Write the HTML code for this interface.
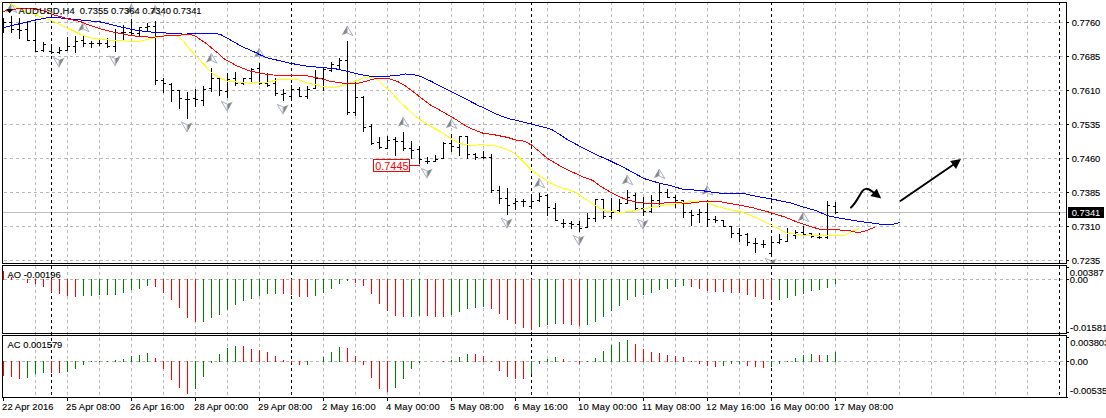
<!DOCTYPE html><html><head><meta charset="utf-8"><title>AUDUSD H4</title>
<style>html,body{margin:0;padding:0;background:#fff}body{width:1106px;height:418px;overflow:hidden}svg{display:block}text{font-family:"Liberation Sans",sans-serif;font-size:9.4px;fill:#000;stroke:#000;stroke-width:0.12px}</style></head><body>
<svg width="1106" height="418" viewBox="0 0 1106 418">
<rect width="1106" height="418" fill="#fff"/>
<defs><clipPath id="cm"><rect x="3" y="3" width="1063" height="260"/></clipPath>
<linearGradient id="gl" x1="1" y1="0" x2="0" y2="0"><stop offset="0" stop-color="#7e7e7e"/><stop offset="0.55" stop-color="#8e8e8e"/><stop offset="1" stop-color="#d8d4d0"/></linearGradient>
<linearGradient id="gr" x1="0" y1="0" x2="1" y2="0"><stop offset="0" stop-color="#7e7e7e"/><stop offset="0.55" stop-color="#8e8e8e"/><stop offset="1" stop-color="#d8d4d0"/></linearGradient>
<g id="fu"><polygon points="0,0 -5.8,9.6 0,7" fill="url(#gl)"/><polygon points="0,0 0,7 5.8,9.6" fill="#fbfcfe" stroke="#a3adbd" stroke-width="0.95"/></g>
<g id="fd"><polygon points="0,10.2 5.8,0.4 0,2.9" fill="url(#gr)"/><polygon points="0,10.2 0,2.9 -5.8,0.4" fill="#fbfcfe" stroke="#a3adbd" stroke-width="0.95"/></g>
</defs>
<g shape-rendering="crispEdges" fill="none" stroke-width="1">
<g stroke="#b8b8b8" stroke-dasharray="3 3">
<line x1="35.5" y1="2" x2="35.5" y2="398"/>
<line x1="67.5" y1="2" x2="67.5" y2="398"/>
<line x1="99.5" y1="2" x2="99.5" y2="398"/>
<line x1="131.5" y1="2" x2="131.5" y2="398"/>
<line x1="163.5" y1="2" x2="163.5" y2="398"/>
<line x1="195.5" y1="2" x2="195.5" y2="398"/>
<line x1="227.5" y1="2" x2="227.5" y2="398"/>
<line x1="259.5" y1="2" x2="259.5" y2="398"/>
<line x1="291.5" y1="2" x2="291.5" y2="398"/>
<line x1="323.5" y1="2" x2="323.5" y2="398"/>
<line x1="355.5" y1="2" x2="355.5" y2="398"/>
<line x1="387.5" y1="2" x2="387.5" y2="398"/>
<line x1="419.5" y1="2" x2="419.5" y2="398"/>
<line x1="451.5" y1="2" x2="451.5" y2="398"/>
<line x1="483.5" y1="2" x2="483.5" y2="398"/>
<line x1="515.5" y1="2" x2="515.5" y2="398"/>
<line x1="547.5" y1="2" x2="547.5" y2="398"/>
<line x1="579.5" y1="2" x2="579.5" y2="398"/>
<line x1="611.5" y1="2" x2="611.5" y2="398"/>
<line x1="643.5" y1="2" x2="643.5" y2="398"/>
<line x1="675.5" y1="2" x2="675.5" y2="398"/>
<line x1="707.5" y1="2" x2="707.5" y2="398"/>
<line x1="739.5" y1="2" x2="739.5" y2="398"/>
<line x1="771.5" y1="2" x2="771.5" y2="398"/>
<line x1="803.5" y1="2" x2="803.5" y2="398"/>
<line x1="835.5" y1="2" x2="835.5" y2="398"/>
<line x1="867.5" y1="2" x2="867.5" y2="398"/>
<line x1="899.5" y1="2" x2="899.5" y2="398"/>
<line x1="931.5" y1="2" x2="931.5" y2="398"/>
<line x1="963.5" y1="2" x2="963.5" y2="398"/>
<line x1="995.5" y1="2" x2="995.5" y2="398"/>
<line x1="1027.5" y1="2" x2="1027.5" y2="398"/>
<line x1="3" y1="22.5" x2="1066" y2="22.5" stroke-dashoffset="5"/>
<line x1="3" y1="56.5" x2="1066" y2="56.5" stroke-dashoffset="5"/>
<line x1="3" y1="90.5" x2="1066" y2="90.5" stroke-dashoffset="5"/>
<line x1="3" y1="124.5" x2="1066" y2="124.5" stroke-dashoffset="5"/>
<line x1="3" y1="158.5" x2="1066" y2="158.5" stroke-dashoffset="5"/>
<line x1="3" y1="192.5" x2="1066" y2="192.5" stroke-dashoffset="5"/>
<line x1="3" y1="226.5" x2="1066" y2="226.5" stroke-dashoffset="5"/>
<line x1="3" y1="260.5" x2="1066" y2="260.5" stroke-dashoffset="5"/>
<line x1="3" y1="279.5" x2="1066" y2="279.5" stroke-dashoffset="5"/>
<line x1="3" y1="361.5" x2="1066" y2="361.5" stroke-dashoffset="5"/>
</g>
<line x1="3" y1="212.5" x2="1066" y2="212.5" stroke="#c0c0c0"/>
<g stroke="#000" stroke-dasharray="3 3">
<line x1="51.5" y1="2" x2="51.5" y2="398"/>
<line x1="291.5" y1="2" x2="291.5" y2="398"/>
<line x1="531.5" y1="2" x2="531.5" y2="398"/>
<line x1="771.5" y1="2" x2="771.5" y2="398"/>
<line x1="1059.5" y1="2" x2="1059.5" y2="398"/>
</g>
</g>
<g shape-rendering="crispEdges">
<rect x="3" y="271" width="1" height="9" fill="#ff0000"/>
<rect x="11" y="277" width="1" height="3" fill="#ff0000"/>
<rect x="27" y="279" width="1" height="4" fill="#ff0000"/>
<rect x="35" y="279" width="1" height="5" fill="#ff0000"/>
<rect x="43" y="279" width="1" height="8" fill="#ff0000"/>
<rect x="51" y="279" width="1" height="13" fill="#ff0000"/>
<rect x="59" y="279" width="1" height="15" fill="#ff0000"/>
<rect x="67" y="279" width="1" height="17" fill="#ff0000"/>
<rect x="75" y="279" width="1" height="18" fill="#ff0000"/>
<rect x="83" y="279" width="1" height="17" fill="#008000"/>
<rect x="91" y="279" width="1" height="17" fill="#008000"/>
<rect x="99" y="279" width="1" height="16" fill="#008000"/>
<rect x="107" y="279" width="1" height="16" fill="#008000"/>
<rect x="115" y="279" width="1" height="16" fill="#008000"/>
<rect x="123" y="279" width="1" height="14" fill="#008000"/>
<rect x="131" y="279" width="1" height="11" fill="#008000"/>
<rect x="139" y="279" width="1" height="10" fill="#008000"/>
<rect x="147" y="279" width="1" height="7" fill="#008000"/>
<rect x="155" y="279" width="1" height="8" fill="#ff0000"/>
<rect x="163" y="279" width="1" height="14" fill="#ff0000"/>
<rect x="171" y="279" width="1" height="21" fill="#ff0000"/>
<rect x="179" y="279" width="1" height="29" fill="#ff0000"/>
<rect x="187" y="279" width="1" height="39" fill="#ff0000"/>
<rect x="195" y="279" width="1" height="43" fill="#ff0000"/>
<rect x="203" y="279" width="1" height="43" fill="#008000"/>
<rect x="211" y="279" width="1" height="39" fill="#008000"/>
<rect x="219" y="279" width="1" height="36" fill="#008000"/>
<rect x="227" y="279" width="1" height="31" fill="#008000"/>
<rect x="235" y="279" width="1" height="26" fill="#008000"/>
<rect x="243" y="279" width="1" height="22" fill="#008000"/>
<rect x="251" y="279" width="1" height="20" fill="#008000"/>
<rect x="259" y="279" width="1" height="17" fill="#008000"/>
<rect x="267" y="279" width="1" height="15" fill="#008000"/>
<rect x="275" y="279" width="1" height="15" fill="#008000"/>
<rect x="283" y="279" width="1" height="15" fill="#ff0000"/>
<rect x="291" y="279" width="1" height="16" fill="#ff0000"/>
<rect x="299" y="279" width="1" height="18" fill="#ff0000"/>
<rect x="307" y="279" width="1" height="18" fill="#ff0000"/>
<rect x="315" y="279" width="1" height="17" fill="#008000"/>
<rect x="323" y="279" width="1" height="14" fill="#008000"/>
<rect x="331" y="279" width="1" height="10" fill="#008000"/>
<rect x="339" y="279" width="1" height="5" fill="#008000"/>
<rect x="347" y="279" width="1" height="2" fill="#008000"/>
<rect x="355" y="279" width="1" height="4" fill="#ff0000"/>
<rect x="363" y="279" width="1" height="7" fill="#ff0000"/>
<rect x="371" y="279" width="1" height="15" fill="#ff0000"/>
<rect x="379" y="279" width="1" height="25" fill="#ff0000"/>
<rect x="387" y="279" width="1" height="32" fill="#ff0000"/>
<rect x="395" y="279" width="1" height="37" fill="#ff0000"/>
<rect x="403" y="279" width="1" height="38" fill="#ff0000"/>
<rect x="411" y="279" width="1" height="38" fill="#008000"/>
<rect x="419" y="279" width="1" height="37" fill="#008000"/>
<rect x="427" y="279" width="1" height="37" fill="#ff0000"/>
<rect x="435" y="279" width="1" height="38" fill="#ff0000"/>
<rect x="443" y="279" width="1" height="38" fill="#ff0000"/>
<rect x="451" y="279" width="1" height="36" fill="#008000"/>
<rect x="459" y="279" width="1" height="33" fill="#008000"/>
<rect x="467" y="279" width="1" height="30" fill="#008000"/>
<rect x="475" y="279" width="1" height="29" fill="#008000"/>
<rect x="483" y="279" width="1" height="28" fill="#008000"/>
<rect x="491" y="279" width="1" height="30" fill="#ff0000"/>
<rect x="499" y="279" width="1" height="35" fill="#ff0000"/>
<rect x="507" y="279" width="1" height="41" fill="#ff0000"/>
<rect x="515" y="279" width="1" height="45" fill="#ff0000"/>
<rect x="523" y="279" width="1" height="49" fill="#ff0000"/>
<rect x="531" y="279" width="1" height="51" fill="#ff0000"/>
<rect x="539" y="279" width="1" height="48" fill="#008000"/>
<rect x="547" y="279" width="1" height="46" fill="#008000"/>
<rect x="555" y="279" width="1" height="45" fill="#008000"/>
<rect x="563" y="279" width="1" height="45" fill="#ff0000"/>
<rect x="571" y="279" width="1" height="46" fill="#ff0000"/>
<rect x="579" y="279" width="1" height="47" fill="#ff0000"/>
<rect x="587" y="279" width="1" height="46" fill="#008000"/>
<rect x="595" y="279" width="1" height="43" fill="#008000"/>
<rect x="603" y="279" width="1" height="38" fill="#008000"/>
<rect x="611" y="279" width="1" height="32" fill="#008000"/>
<rect x="619" y="279" width="1" height="27" fill="#008000"/>
<rect x="627" y="279" width="1" height="21" fill="#008000"/>
<rect x="635" y="279" width="1" height="18" fill="#008000"/>
<rect x="643" y="279" width="1" height="16" fill="#008000"/>
<rect x="651" y="279" width="1" height="14" fill="#008000"/>
<rect x="659" y="279" width="1" height="11" fill="#008000"/>
<rect x="667" y="279" width="1" height="10" fill="#008000"/>
<rect x="675" y="279" width="1" height="8" fill="#008000"/>
<rect x="683" y="279" width="1" height="7" fill="#008000"/>
<rect x="691" y="279" width="1" height="8" fill="#ff0000"/>
<rect x="699" y="279" width="1" height="10" fill="#ff0000"/>
<rect x="707" y="279" width="1" height="12" fill="#ff0000"/>
<rect x="715" y="279" width="1" height="13" fill="#ff0000"/>
<rect x="723" y="279" width="1" height="13" fill="#ff0000"/>
<rect x="731" y="279" width="1" height="14" fill="#ff0000"/>
<rect x="739" y="279" width="1" height="14" fill="#ff0000"/>
<rect x="747" y="279" width="1" height="16" fill="#ff0000"/>
<rect x="755" y="279" width="1" height="18" fill="#ff0000"/>
<rect x="763" y="279" width="1" height="20" fill="#ff0000"/>
<rect x="771" y="279" width="1" height="21" fill="#ff0000"/>
<rect x="779" y="279" width="1" height="21" fill="#008000"/>
<rect x="787" y="279" width="1" height="19" fill="#008000"/>
<rect x="795" y="279" width="1" height="17" fill="#008000"/>
<rect x="803" y="279" width="1" height="15" fill="#008000"/>
<rect x="811" y="279" width="1" height="12" fill="#008000"/>
<rect x="819" y="279" width="1" height="11" fill="#008000"/>
<rect x="827" y="279" width="1" height="9" fill="#008000"/>
<rect x="835" y="279" width="1" height="5" fill="#008000"/>
<rect x="3" y="361" width="1" height="15" fill="#ff0000"/>
<rect x="11" y="361" width="1" height="16" fill="#ff0000"/>
<rect x="19" y="361" width="1" height="18" fill="#ff0000"/>
<rect x="27" y="361" width="1" height="17" fill="#008000"/>
<rect x="35" y="361" width="1" height="13" fill="#008000"/>
<rect x="43" y="361" width="1" height="12" fill="#008000"/>
<rect x="51" y="361" width="1" height="12" fill="#ff0000"/>
<rect x="59" y="361" width="1" height="12" fill="#ff0000"/>
<rect x="67" y="361" width="1" height="11" fill="#008000"/>
<rect x="75" y="361" width="1" height="8" fill="#008000"/>
<rect x="83" y="361" width="1" height="4" fill="#008000"/>
<rect x="91" y="361" width="1" height="1" fill="#008000"/>
<rect x="99" y="361" width="1" height="1" fill="#008000"/>
<rect x="107" y="361" width="1" height="1" fill="#008000"/>
<rect x="115" y="360" width="1" height="2" fill="#008000"/>
<rect x="123" y="359" width="1" height="3" fill="#008000"/>
<rect x="131" y="356" width="1" height="6" fill="#008000"/>
<rect x="139" y="355" width="1" height="7" fill="#008000"/>
<rect x="147" y="353" width="1" height="9" fill="#008000"/>
<rect x="155" y="358" width="1" height="4" fill="#ff0000"/>
<rect x="163" y="361" width="1" height="8" fill="#ff0000"/>
<rect x="171" y="361" width="1" height="19" fill="#ff0000"/>
<rect x="179" y="361" width="1" height="27" fill="#ff0000"/>
<rect x="187" y="361" width="1" height="33" fill="#ff0000"/>
<rect x="195" y="361" width="1" height="28" fill="#008000"/>
<rect x="203" y="361" width="1" height="16" fill="#008000"/>
<rect x="211" y="361" width="1" height="2" fill="#008000"/>
<rect x="219" y="354" width="1" height="8" fill="#008000"/>
<rect x="227" y="348" width="1" height="14" fill="#008000"/>
<rect x="235" y="346" width="1" height="16" fill="#008000"/>
<rect x="243" y="346" width="1" height="16" fill="#ff0000"/>
<rect x="251" y="349" width="1" height="13" fill="#ff0000"/>
<rect x="259" y="350" width="1" height="12" fill="#ff0000"/>
<rect x="267" y="352" width="1" height="10" fill="#ff0000"/>
<rect x="275" y="356" width="1" height="6" fill="#ff0000"/>
<rect x="283" y="360" width="1" height="2" fill="#ff0000"/>
<rect x="291" y="361" width="1" height="2" fill="#ff0000"/>
<rect x="299" y="361" width="1" height="4" fill="#ff0000"/>
<rect x="307" y="361" width="1" height="4" fill="#008000"/>
<rect x="323" y="357" width="1" height="5" fill="#008000"/>
<rect x="331" y="352" width="1" height="10" fill="#008000"/>
<rect x="339" y="347" width="1" height="15" fill="#008000"/>
<rect x="347" y="348" width="1" height="14" fill="#ff0000"/>
<rect x="355" y="356" width="1" height="6" fill="#ff0000"/>
<rect x="363" y="361" width="1" height="4" fill="#ff0000"/>
<rect x="371" y="361" width="1" height="17" fill="#ff0000"/>
<rect x="379" y="361" width="1" height="28" fill="#ff0000"/>
<rect x="387" y="361" width="1" height="31" fill="#ff0000"/>
<rect x="395" y="361" width="1" height="27" fill="#008000"/>
<rect x="403" y="361" width="1" height="18" fill="#008000"/>
<rect x="411" y="361" width="1" height="8" fill="#008000"/>
<rect x="419" y="361" width="1" height="2" fill="#008000"/>
<rect x="443" y="361" width="1" height="1" fill="#ff0000"/>
<rect x="451" y="360" width="1" height="2" fill="#008000"/>
<rect x="459" y="357" width="1" height="5" fill="#008000"/>
<rect x="467" y="354" width="1" height="8" fill="#008000"/>
<rect x="475" y="354" width="1" height="8" fill="#ff0000"/>
<rect x="483" y="356" width="1" height="6" fill="#ff0000"/>
<rect x="491" y="361" width="1" height="1" fill="#ff0000"/>
<rect x="499" y="361" width="1" height="10" fill="#ff0000"/>
<rect x="507" y="361" width="1" height="16" fill="#ff0000"/>
<rect x="515" y="361" width="1" height="18" fill="#ff0000"/>
<rect x="523" y="361" width="1" height="18" fill="#ff0000"/>
<rect x="531" y="361" width="1" height="13" fill="#008000"/>
<rect x="539" y="361" width="1" height="3" fill="#008000"/>
<rect x="547" y="359" width="1" height="3" fill="#008000"/>
<rect x="555" y="357" width="1" height="5" fill="#008000"/>
<rect x="563" y="359" width="1" height="3" fill="#ff0000"/>
<rect x="579" y="361" width="1" height="3" fill="#ff0000"/>
<rect x="587" y="361" width="1" height="1" fill="#008000"/>
<rect x="595" y="358" width="1" height="4" fill="#008000"/>
<rect x="603" y="351" width="1" height="11" fill="#008000"/>
<rect x="611" y="345" width="1" height="17" fill="#008000"/>
<rect x="619" y="342" width="1" height="20" fill="#008000"/>
<rect x="627" y="340" width="1" height="22" fill="#008000"/>
<rect x="635" y="344" width="1" height="18" fill="#ff0000"/>
<rect x="643" y="349" width="1" height="13" fill="#ff0000"/>
<rect x="651" y="352" width="1" height="10" fill="#ff0000"/>
<rect x="659" y="353" width="1" height="9" fill="#ff0000"/>
<rect x="667" y="355" width="1" height="7" fill="#ff0000"/>
<rect x="675" y="356" width="1" height="6" fill="#ff0000"/>
<rect x="683" y="357" width="1" height="5" fill="#ff0000"/>
<rect x="691" y="361" width="1" height="1" fill="#ff0000"/>
<rect x="699" y="361" width="1" height="3" fill="#ff0000"/>
<rect x="707" y="361" width="1" height="5" fill="#ff0000"/>
<rect x="715" y="361" width="1" height="6" fill="#ff0000"/>
<rect x="723" y="361" width="1" height="5" fill="#008000"/>
<rect x="731" y="361" width="1" height="3" fill="#008000"/>
<rect x="739" y="361" width="1" height="3" fill="#008000"/>
<rect x="747" y="361" width="1" height="5" fill="#ff0000"/>
<rect x="755" y="361" width="1" height="6" fill="#ff0000"/>
<rect x="763" y="361" width="1" height="7" fill="#ff0000"/>
<rect x="771" y="361" width="1" height="6" fill="#008000"/>
<rect x="779" y="361" width="1" height="3" fill="#008000"/>
<rect x="787" y="361" width="1" height="1" fill="#008000"/>
<rect x="795" y="358" width="1" height="4" fill="#008000"/>
<rect x="803" y="355" width="1" height="7" fill="#008000"/>
<rect x="811" y="354" width="1" height="8" fill="#008000"/>
<rect x="819" y="355" width="1" height="7" fill="#ff0000"/>
<rect x="827" y="355" width="1" height="7" fill="#008000"/>
<rect x="835" y="352" width="1" height="10" fill="#008000"/>
</g>
<g clip-path="url(#cm)">
<use href="#fu" x="11.2" y="3.0"/>
<use href="#fu" x="83.2" y="22.1"/>
<use href="#fu" x="131.2" y="4.3"/>
<use href="#fu" x="155.2" y="5.5"/>
<use href="#fu" x="211.2" y="53.5"/>
<use href="#fu" x="259.1" y="48.3"/>
<use href="#fu" x="347.1" y="26.0"/>
<use href="#fu" x="403.1" y="117.3"/>
<use href="#fu" x="451.1" y="118.9"/>
<use href="#fu" x="539.1" y="178.3"/>
<use href="#fu" x="627.1" y="175.2"/>
<use href="#fu" x="659.1" y="169.0"/>
<use href="#fu" x="707.1" y="185.6"/>
<use href="#fu" x="803.1" y="212.0"/>
<use href="#fd" x="59.1" y="57.0"/>
<use href="#fd" x="115.2" y="55.6"/>
<use href="#fd" x="187.2" y="121.8"/>
<use href="#fd" x="227.2" y="101.0"/>
<use href="#fd" x="283.1" y="104.0"/>
<use href="#fd" x="427.1" y="168.0"/>
<use href="#fd" x="507.1" y="218.0"/>
<use href="#fd" x="579.1" y="235.2"/>
<use href="#fd" x="643.1" y="219.0"/>
<use href="#fd" x="771.1" y="258.0"/>
<g shape-rendering="crispEdges" fill="#000">
<rect x="3" y="18" width="1" height="15"/>
<rect x="4" y="22" width="2" height="1"/>
<rect x="11" y="16" width="1" height="17"/>
<rect x="9" y="22" width="2" height="1"/>
<rect x="12" y="29" width="2" height="1"/>
<rect x="19" y="18" width="1" height="21"/>
<rect x="17" y="29" width="2" height="1"/>
<rect x="20" y="30" width="2" height="1"/>
<rect x="27" y="22" width="1" height="19"/>
<rect x="25" y="29" width="2" height="1"/>
<rect x="28" y="40" width="2" height="1"/>
<rect x="35" y="22" width="1" height="30"/>
<rect x="33" y="40" width="2" height="1"/>
<rect x="36" y="51" width="2" height="1"/>
<rect x="43" y="42" width="1" height="10"/>
<rect x="41" y="50" width="2" height="1"/>
<rect x="44" y="44" width="2" height="1"/>
<rect x="51" y="44" width="1" height="10"/>
<rect x="49" y="51" width="2" height="1"/>
<rect x="52" y="52" width="2" height="1"/>
<rect x="59" y="47" width="1" height="7"/>
<rect x="57" y="52" width="2" height="1"/>
<rect x="60" y="50" width="2" height="1"/>
<rect x="67" y="37" width="1" height="14"/>
<rect x="65" y="50" width="2" height="1"/>
<rect x="68" y="46" width="2" height="1"/>
<rect x="75" y="36" width="1" height="17"/>
<rect x="73" y="46" width="2" height="1"/>
<rect x="76" y="41" width="2" height="1"/>
<rect x="83" y="36" width="1" height="11"/>
<rect x="81" y="40" width="2" height="1"/>
<rect x="84" y="43" width="2" height="1"/>
<rect x="91" y="41" width="1" height="7"/>
<rect x="89" y="43" width="2" height="1"/>
<rect x="92" y="43" width="2" height="1"/>
<rect x="99" y="39" width="1" height="7"/>
<rect x="97" y="43" width="2" height="1"/>
<rect x="100" y="43" width="2" height="1"/>
<rect x="107" y="38" width="1" height="10"/>
<rect x="105" y="43" width="2" height="1"/>
<rect x="108" y="46" width="2" height="1"/>
<rect x="115" y="29" width="1" height="23"/>
<rect x="113" y="46" width="2" height="1"/>
<rect x="116" y="32" width="2" height="1"/>
<rect x="123" y="25" width="1" height="15"/>
<rect x="121" y="32" width="2" height="1"/>
<rect x="124" y="32" width="2" height="1"/>
<rect x="131" y="19" width="1" height="17"/>
<rect x="129" y="32" width="2" height="1"/>
<rect x="132" y="33" width="2" height="1"/>
<rect x="139" y="27" width="1" height="9"/>
<rect x="137" y="33" width="2" height="1"/>
<rect x="140" y="27" width="2" height="1"/>
<rect x="147" y="23" width="1" height="8"/>
<rect x="145" y="27" width="2" height="1"/>
<rect x="148" y="26" width="2" height="1"/>
<rect x="155" y="21" width="1" height="64"/>
<rect x="153" y="26" width="2" height="1"/>
<rect x="156" y="80" width="2" height="1"/>
<rect x="163" y="78" width="1" height="15"/>
<rect x="161" y="80" width="2" height="1"/>
<rect x="164" y="83" width="2" height="1"/>
<rect x="171" y="83" width="1" height="19"/>
<rect x="169" y="84" width="2" height="1"/>
<rect x="172" y="90" width="2" height="1"/>
<rect x="179" y="90" width="1" height="19"/>
<rect x="177" y="90" width="2" height="1"/>
<rect x="180" y="98" width="2" height="1"/>
<rect x="187" y="92" width="1" height="27"/>
<rect x="185" y="99" width="2" height="1"/>
<rect x="188" y="99" width="2" height="1"/>
<rect x="195" y="89" width="1" height="18"/>
<rect x="193" y="98" width="2" height="1"/>
<rect x="196" y="99" width="2" height="1"/>
<rect x="203" y="86" width="1" height="20"/>
<rect x="201" y="100" width="2" height="1"/>
<rect x="204" y="89" width="2" height="1"/>
<rect x="211" y="68" width="1" height="24"/>
<rect x="209" y="88" width="2" height="1"/>
<rect x="212" y="78" width="2" height="1"/>
<rect x="219" y="77" width="1" height="19"/>
<rect x="217" y="78" width="2" height="1"/>
<rect x="220" y="90" width="2" height="1"/>
<rect x="227" y="73" width="1" height="25"/>
<rect x="225" y="91" width="2" height="1"/>
<rect x="228" y="79" width="2" height="1"/>
<rect x="235" y="72" width="1" height="14"/>
<rect x="233" y="78" width="2" height="1"/>
<rect x="236" y="83" width="2" height="1"/>
<rect x="243" y="78" width="1" height="7"/>
<rect x="241" y="83" width="2" height="1"/>
<rect x="244" y="78" width="2" height="1"/>
<rect x="251" y="68" width="1" height="14"/>
<rect x="249" y="78" width="2" height="1"/>
<rect x="252" y="69" width="2" height="1"/>
<rect x="259" y="63" width="1" height="22"/>
<rect x="257" y="68" width="2" height="1"/>
<rect x="260" y="83" width="2" height="1"/>
<rect x="267" y="73" width="1" height="14"/>
<rect x="265" y="83" width="2" height="1"/>
<rect x="268" y="85" width="2" height="1"/>
<rect x="275" y="78" width="1" height="18"/>
<rect x="273" y="83" width="2" height="1"/>
<rect x="276" y="93" width="2" height="1"/>
<rect x="283" y="89" width="1" height="12"/>
<rect x="281" y="94" width="2" height="1"/>
<rect x="284" y="93" width="2" height="1"/>
<rect x="291" y="85" width="1" height="16"/>
<rect x="289" y="96" width="2" height="1"/>
<rect x="292" y="89" width="2" height="1"/>
<rect x="299" y="87" width="1" height="10"/>
<rect x="297" y="89" width="2" height="1"/>
<rect x="300" y="96" width="2" height="1"/>
<rect x="307" y="86" width="1" height="13"/>
<rect x="305" y="96" width="2" height="1"/>
<rect x="308" y="89" width="2" height="1"/>
<rect x="315" y="70" width="1" height="19"/>
<rect x="313" y="88" width="2" height="1"/>
<rect x="316" y="78" width="2" height="1"/>
<rect x="323" y="68" width="1" height="23"/>
<rect x="321" y="78" width="2" height="1"/>
<rect x="324" y="69" width="2" height="1"/>
<rect x="331" y="62" width="1" height="10"/>
<rect x="329" y="70" width="2" height="1"/>
<rect x="332" y="64" width="2" height="1"/>
<rect x="339" y="58" width="1" height="11"/>
<rect x="337" y="65" width="2" height="1"/>
<rect x="340" y="60" width="2" height="1"/>
<rect x="347" y="41" width="1" height="74"/>
<rect x="345" y="60" width="2" height="1"/>
<rect x="348" y="112" width="2" height="1"/>
<rect x="355" y="81" width="1" height="35"/>
<rect x="353" y="112" width="2" height="1"/>
<rect x="356" y="97" width="2" height="1"/>
<rect x="363" y="96" width="1" height="36"/>
<rect x="361" y="97" width="2" height="1"/>
<rect x="364" y="127" width="2" height="1"/>
<rect x="371" y="124" width="1" height="21"/>
<rect x="369" y="126" width="2" height="1"/>
<rect x="372" y="143" width="2" height="1"/>
<rect x="379" y="137" width="1" height="12"/>
<rect x="377" y="142" width="2" height="1"/>
<rect x="380" y="147" width="2" height="1"/>
<rect x="387" y="136" width="1" height="13"/>
<rect x="385" y="148" width="2" height="1"/>
<rect x="388" y="140" width="2" height="1"/>
<rect x="395" y="137" width="1" height="19"/>
<rect x="393" y="139" width="2" height="1"/>
<rect x="396" y="141" width="2" height="1"/>
<rect x="403" y="132" width="1" height="19"/>
<rect x="401" y="141" width="2" height="1"/>
<rect x="404" y="148" width="2" height="1"/>
<rect x="411" y="141" width="1" height="18"/>
<rect x="409" y="148" width="2" height="1"/>
<rect x="412" y="150" width="2" height="1"/>
<rect x="419" y="146" width="1" height="18"/>
<rect x="417" y="149" width="2" height="1"/>
<rect x="420" y="159" width="2" height="1"/>
<rect x="427" y="157" width="1" height="7"/>
<rect x="425" y="161" width="2" height="1"/>
<rect x="428" y="161" width="2" height="1"/>
<rect x="435" y="155" width="1" height="7"/>
<rect x="433" y="161" width="2" height="1"/>
<rect x="436" y="159" width="2" height="1"/>
<rect x="443" y="142" width="1" height="17"/>
<rect x="441" y="158" width="2" height="1"/>
<rect x="444" y="143" width="2" height="1"/>
<rect x="451" y="134" width="1" height="18"/>
<rect x="449" y="143" width="2" height="1"/>
<rect x="452" y="146" width="2" height="1"/>
<rect x="459" y="136" width="1" height="20"/>
<rect x="457" y="147" width="2" height="1"/>
<rect x="460" y="136" width="2" height="1"/>
<rect x="467" y="136" width="1" height="23"/>
<rect x="465" y="136" width="2" height="1"/>
<rect x="468" y="154" width="2" height="1"/>
<rect x="475" y="153" width="1" height="7"/>
<rect x="473" y="154" width="2" height="1"/>
<rect x="476" y="157" width="2" height="1"/>
<rect x="483" y="151" width="1" height="8"/>
<rect x="481" y="157" width="2" height="1"/>
<rect x="484" y="157" width="2" height="1"/>
<rect x="491" y="154" width="1" height="39"/>
<rect x="489" y="157" width="2" height="1"/>
<rect x="492" y="190" width="2" height="1"/>
<rect x="499" y="186" width="1" height="18"/>
<rect x="497" y="190" width="2" height="1"/>
<rect x="500" y="198" width="2" height="1"/>
<rect x="507" y="188" width="1" height="27"/>
<rect x="505" y="198" width="2" height="1"/>
<rect x="508" y="205" width="2" height="1"/>
<rect x="515" y="198" width="1" height="12"/>
<rect x="513" y="203" width="2" height="1"/>
<rect x="516" y="201" width="2" height="1"/>
<rect x="523" y="199" width="1" height="8"/>
<rect x="521" y="201" width="2" height="1"/>
<rect x="524" y="201" width="2" height="1"/>
<rect x="531" y="194" width="1" height="15"/>
<rect x="529" y="206" width="2" height="1"/>
<rect x="532" y="201" width="2" height="1"/>
<rect x="539" y="193" width="1" height="9"/>
<rect x="537" y="200" width="2" height="1"/>
<rect x="540" y="196" width="2" height="1"/>
<rect x="547" y="194" width="1" height="22"/>
<rect x="545" y="195" width="2" height="1"/>
<rect x="548" y="207" width="2" height="1"/>
<rect x="555" y="203" width="1" height="18"/>
<rect x="553" y="208" width="2" height="1"/>
<rect x="556" y="220" width="2" height="1"/>
<rect x="563" y="219" width="1" height="9"/>
<rect x="561" y="223" width="2" height="1"/>
<rect x="564" y="223" width="2" height="1"/>
<rect x="571" y="221" width="1" height="8"/>
<rect x="569" y="223" width="2" height="1"/>
<rect x="572" y="224" width="2" height="1"/>
<rect x="579" y="221" width="1" height="11"/>
<rect x="577" y="224" width="2" height="1"/>
<rect x="580" y="228" width="2" height="1"/>
<rect x="587" y="213" width="1" height="15"/>
<rect x="585" y="227" width="2" height="1"/>
<rect x="588" y="218" width="2" height="1"/>
<rect x="595" y="199" width="1" height="23"/>
<rect x="593" y="218" width="2" height="1"/>
<rect x="596" y="199" width="2" height="1"/>
<rect x="603" y="199" width="1" height="20"/>
<rect x="601" y="199" width="2" height="1"/>
<rect x="604" y="216" width="2" height="1"/>
<rect x="611" y="198" width="1" height="21"/>
<rect x="609" y="216" width="2" height="1"/>
<rect x="612" y="212" width="2" height="1"/>
<rect x="619" y="199" width="1" height="13"/>
<rect x="617" y="210" width="2" height="1"/>
<rect x="620" y="203" width="2" height="1"/>
<rect x="627" y="190" width="1" height="14"/>
<rect x="625" y="203" width="2" height="1"/>
<rect x="628" y="197" width="2" height="1"/>
<rect x="635" y="193" width="1" height="18"/>
<rect x="633" y="195" width="2" height="1"/>
<rect x="636" y="208" width="2" height="1"/>
<rect x="643" y="197" width="1" height="19"/>
<rect x="641" y="208" width="2" height="1"/>
<rect x="644" y="211" width="2" height="1"/>
<rect x="651" y="195" width="1" height="18"/>
<rect x="649" y="211" width="2" height="1"/>
<rect x="652" y="200" width="2" height="1"/>
<rect x="659" y="183" width="1" height="24"/>
<rect x="657" y="200" width="2" height="1"/>
<rect x="660" y="192" width="2" height="1"/>
<rect x="667" y="189" width="1" height="9"/>
<rect x="665" y="192" width="2" height="1"/>
<rect x="668" y="197" width="2" height="1"/>
<rect x="675" y="195" width="1" height="13"/>
<rect x="673" y="197" width="2" height="1"/>
<rect x="676" y="200" width="2" height="1"/>
<rect x="683" y="200" width="1" height="18"/>
<rect x="681" y="200" width="2" height="1"/>
<rect x="684" y="212" width="2" height="1"/>
<rect x="691" y="210" width="1" height="16"/>
<rect x="689" y="212" width="2" height="1"/>
<rect x="692" y="215" width="2" height="1"/>
<rect x="699" y="209" width="1" height="14"/>
<rect x="697" y="214" width="2" height="1"/>
<rect x="700" y="212" width="2" height="1"/>
<rect x="707" y="200" width="1" height="27"/>
<rect x="705" y="212" width="2" height="1"/>
<rect x="708" y="219" width="2" height="1"/>
<rect x="715" y="216" width="1" height="7"/>
<rect x="713" y="219" width="2" height="1"/>
<rect x="716" y="220" width="2" height="1"/>
<rect x="723" y="220" width="1" height="7"/>
<rect x="721" y="220" width="2" height="1"/>
<rect x="724" y="226" width="2" height="1"/>
<rect x="731" y="226" width="1" height="12"/>
<rect x="729" y="226" width="2" height="1"/>
<rect x="732" y="233" width="2" height="1"/>
<rect x="739" y="228" width="1" height="14"/>
<rect x="737" y="233" width="2" height="1"/>
<rect x="740" y="235" width="2" height="1"/>
<rect x="747" y="233" width="1" height="13"/>
<rect x="745" y="234" width="2" height="1"/>
<rect x="748" y="242" width="2" height="1"/>
<rect x="755" y="238" width="1" height="15"/>
<rect x="753" y="243" width="2" height="1"/>
<rect x="756" y="243" width="2" height="1"/>
<rect x="763" y="240" width="1" height="8"/>
<rect x="761" y="244" width="2" height="1"/>
<rect x="764" y="244" width="2" height="1"/>
<rect x="771" y="237" width="1" height="20"/>
<rect x="769" y="253" width="2" height="1"/>
<rect x="772" y="242" width="2" height="1"/>
<rect x="779" y="234" width="1" height="10"/>
<rect x="777" y="242" width="2" height="1"/>
<rect x="780" y="239" width="2" height="1"/>
<rect x="787" y="228" width="1" height="14"/>
<rect x="785" y="241" width="2" height="1"/>
<rect x="788" y="233" width="2" height="1"/>
<rect x="795" y="230" width="1" height="9"/>
<rect x="793" y="235" width="2" height="1"/>
<rect x="796" y="232" width="2" height="1"/>
<rect x="803" y="226" width="1" height="10"/>
<rect x="801" y="232" width="2" height="1"/>
<rect x="804" y="234" width="2" height="1"/>
<rect x="811" y="233" width="1" height="5"/>
<rect x="809" y="233" width="2" height="1"/>
<rect x="812" y="236" width="2" height="1"/>
<rect x="819" y="233" width="1" height="6"/>
<rect x="817" y="237" width="2" height="1"/>
<rect x="820" y="237" width="2" height="1"/>
<rect x="827" y="201" width="1" height="38"/>
<rect x="825" y="237" width="2" height="1"/>
<rect x="828" y="205" width="2" height="1"/>
<rect x="835" y="202" width="1" height="12"/>
<rect x="833" y="206" width="2" height="1"/>
<rect x="836" y="212" width="2" height="1"/>
</g>
<polyline shape-rendering="crispEdges" fill="none" stroke="#ffff00" stroke-width="1" stroke-linejoin="round" points="7.5,2.5 10.5,3.5 17.5,7.2 24.5,11.5 34.5,14.2 45.5,18.5 52.5,21.0 60.5,24.7 68.0,28.3 80.5,34.5 90.5,38.0 100.5,39.4 112.5,40.3 125.5,41.0 130.5,41.4 140.5,41.2 153.0,38.0 164.2,35.6 174.2,35.0 177.9,36.2 181.5,39.3 190.5,50.0 200.5,60.7 211.5,72.6 217.8,77.0 227.8,81.3 236.5,82.0 249.0,83.2 261.5,82.6 268.0,82.0 279.2,79.5 291.5,79.2 297.9,79.7 310.5,83.8 322.9,86.6 332.9,87.6 341.5,85.7 347.8,83.8 356.5,81.0 364.1,77.6 372.8,77.6 377.8,80.0 385.3,87.0 389.8,90.5 400.5,102.5 415.5,116.2 420.5,120.0 433.5,128.0 440.5,131.5 452.8,139.9 460.3,143.6 470.3,145.5 480.5,144.7 493.0,145.6 505.5,148.7 514.2,153.1 522.9,161.2 531.5,170.0 540.5,176.8 550.5,183.0 560.5,187.4 576.5,192.5 582.8,197.5 595.3,205.6 601.5,209.3 608.5,211.8 622.9,212.2 631.5,211.2 644.2,208.7 656.5,206.2 670.5,204.3 680.5,203.7 690.5,201.4 706.5,202.0 715.5,206.0 725.5,208.7 740.5,211.6 750.5,215.3 760.5,219.7 771.5,225.3 780.3,229.7 787.8,233.2 802.8,235.3 819.2,235.5 832.9,235.3 844.2,235.3 852.9,231.2 859.1,228.4"/>
<polyline shape-rendering="crispEdges" fill="none" stroke="#0000ff" stroke-width="1" stroke-linejoin="round" points="3.5,27.7 20.5,23.5 35.5,20.0 48.5,17.5 60.5,18.0 75.5,19.4 100.5,22.0 115.5,25.6 131.5,29.4 143.0,31.2 155.5,32.5 176.5,33.5 184.5,34.3 191.5,33.4 216.5,33.4 221.5,35.0 230.5,40.0 242.5,46.8 255.5,52.4 260.5,55.0 267.5,57.9 291.5,63.5 307.9,66.3 322.9,67.6 335.5,68.8 347.8,71.3 355.3,73.5 370.3,76.3 389.0,76.3 392.8,75.3 398.5,75.3 405.5,74.0 413.5,74.5 420.5,76.3 430.5,81.0 447.8,90.0 465.3,98.7 478.5,105.6 483.0,107.6 495.5,113.8 507.9,118.5 520.5,121.3 531.5,124.2 545.5,127.6 551.5,129.4 560.5,135.0 569.1,140.6 574.1,143.2 582.8,148.0 595.3,154.3 608.5,160.0 625.5,168.4 644.2,178.6 659.1,183.1 670.5,185.6 682.9,189.3 690.5,189.7 700.3,190.6 706.5,191.2 712.8,192.4 721.5,193.2 742.9,193.2 752.9,195.7 771.5,199.0 790.3,202.8 802.8,207.0 815.3,210.3 827.8,215.7 837.9,217.8 856.5,221.0 870.5,222.8 881.5,224.4 892.8,224.4 899.7,222.4"/>
<polyline shape-rendering="crispEdges" fill="none" stroke="#ff0000" stroke-width="1" stroke-linejoin="round" points="3.5,11.5 8.5,9.5 17.5,8.9 33.5,8.9 40.5,10.0 48.5,12.5 51.5,14.5 60.5,16.5 67.5,18.8 80.5,21.5 85.5,23.8 100.5,28.8 112.5,31.9 125.5,34.4 130.5,35.6 143.0,36.8 153.0,37.2 164.2,36.0 174.2,35.3 190.5,34.6 195.5,36.2 205.5,43.0 217.5,52.8 224.1,58.8 236.5,65.7 249.0,70.7 261.5,73.5 273.0,75.0 291.5,75.3 304.2,75.3 316.5,77.6 330.5,81.3 341.5,83.0 347.5,83.8 357.8,83.4 370.3,80.0 375.3,78.5 389.0,78.5 398.5,82.0 405.5,86.0 411.0,90.0 420.5,97.5 430.5,105.0 440.5,110.6 452.8,117.5 465.3,125.6 470.5,128.4 483.0,133.2 495.5,135.0 507.9,137.5 515.5,140.0 524.2,141.2 531.5,145.0 540.5,152.5 547.9,158.7 560.5,166.2 570.5,171.2 582.8,176.8 592.8,180.5 600.5,186.2 613.0,193.7 625.5,199.3 637.9,202.4 650.5,203.7 660.5,203.4 670.5,202.2 687.8,203.4 700.3,201.8 706.5,201.2 719.2,201.6 740.5,205.3 752.9,207.8 771.5,212.8 785.3,217.2 797.8,222.4 810.3,226.5 820.3,229.4 831.7,229.7 847.9,230.3 857.9,232.8 865.4,231.0 875.4,227.0"/>
<path d="M851,207.5 C856,203 859,196 862,191.5 C864,188.3 867.5,188 871,190.6 L874.5,193.3" fill="none" stroke="#000" stroke-width="2" stroke-linecap="round"/>
<polygon points="876.8,188.8 870.4,196 881.2,198.6" fill="#000"/>
<line x1="900" y1="201.2" x2="954" y2="164.2" stroke="#000" stroke-width="2"/>
<polygon points="961,158.9 950.2,161 956,168.9" fill="#000"/>
<rect x="373.5" y="159.5" width="36" height="12" fill="#fff" stroke="#ff0000" stroke-width="1" shape-rendering="crispEdges"/>
<line x1="410" y1="165.5" x2="420" y2="165.5" stroke="#ff0000" shape-rendering="crispEdges"/>
<text x="375.2" y="169.6" style="font-size:10.9px;fill:#ff0000;stroke:none">0.7445</text>
<polygon points="6,9 13.2,9 9.6,13.2" fill="#000"/>
<text x="18.6" y="13.9" style="letter-spacing:0.25px">AUDUSD,H4</text>
<text x="79.7" y="13.9">0.7355</text>
<text x="111.0" y="13.9">0.7364</text>
<text x="142.3" y="13.9">0.7340</text>
<text x="172.9" y="13.9">0.7341</text>
</g>
<text x="7.6" y="278.4">AO -0.00196</text>
<text x="7.6" y="348.2">AC 0.001579</text>
<g shape-rendering="crispEdges" fill="none" stroke="#000" stroke-width="1">
<rect x="2.5" y="2.5" width="1064" height="261"/>
<rect x="2.5" y="265.5" width="1064" height="68"/>
<rect x="2.5" y="335.5" width="1064" height="62"/>
</g>
<g shape-rendering="crispEdges" fill="#000">
<rect x="1067" y="22" width="2" height="1"/>
<rect x="1067" y="56" width="2" height="1"/>
<rect x="1067" y="90" width="2" height="1"/>
<rect x="1067" y="124" width="2" height="1"/>
<rect x="1067" y="158" width="2" height="1"/>
<rect x="1067" y="192" width="2" height="1"/>
<rect x="1067" y="226" width="2" height="1"/>
<rect x="1067" y="260" width="2" height="1"/>
<rect x="1067" y="267" width="2" height="1"/>
<rect x="1067" y="279" width="2" height="1"/>
<rect x="1067" y="332" width="2" height="1"/>
<rect x="1067" y="337" width="2" height="1"/>
<rect x="1067" y="361" width="2" height="1"/>
<rect x="1067" y="397" width="1" height="1"/>
<rect x="3" y="398" width="1" height="3"/>
<rect x="67" y="398" width="1" height="3"/>
<rect x="131" y="398" width="1" height="3"/>
<rect x="195" y="398" width="1" height="3"/>
<rect x="259" y="398" width="1" height="3"/>
<rect x="323" y="398" width="1" height="3"/>
<rect x="387" y="398" width="1" height="3"/>
<rect x="451" y="398" width="1" height="3"/>
<rect x="515" y="398" width="1" height="3"/>
<rect x="579" y="398" width="1" height="3"/>
<rect x="643" y="398" width="1" height="3"/>
<rect x="707" y="398" width="1" height="3"/>
<rect x="771" y="398" width="1" height="3"/>
<rect x="835" y="398" width="1" height="3"/>
<rect x="1068" y="207" width="36" height="11"/>
</g>
<text x="1086" y="25.9" text-anchor="middle">0.7760</text>
<text x="1086" y="59.9" text-anchor="middle">0.7685</text>
<text x="1086" y="93.9" text-anchor="middle">0.7610</text>
<text x="1086" y="127.9" text-anchor="middle">0.7535</text>
<text x="1086" y="161.9" text-anchor="middle">0.7460</text>
<text x="1086" y="195.9" text-anchor="middle">0.7385</text>
<text x="1086" y="229.9" text-anchor="middle">0.7310</text>
<text x="1086" y="263.9" text-anchor="middle">0.7235</text>
<text x="1086" y="215.9" text-anchor="middle" style="fill:#fff;stroke:none">0.7341</text>
<text x="1069.8" y="275.9">0.00387</text>
<text x="1069.8" y="282.9">0.00</text>
<text x="1070.1" y="330.9">-0.01581</text>
<text x="1070.2" y="345.9">0.003803</text>
<text x="1069.8" y="364.9">0.00</text>
<text x="1070.1" y="393.9">-0.00535</text>
<text x="2.1" y="409.9" style="letter-spacing:0.08px">22 Apr 2016</text>
<text x="66.1" y="409.9" style="letter-spacing:0.08px">25 Apr 08:00</text>
<text x="130.1" y="409.9" style="letter-spacing:0.08px">26 Apr 16:00</text>
<text x="194.1" y="409.9" style="letter-spacing:0.08px">28 Apr 00:00</text>
<text x="258.1" y="409.9" style="letter-spacing:0.08px">29 Apr 08:00</text>
<text x="322.1" y="409.9" style="letter-spacing:0.2px">2 May 16:00</text>
<text x="386.1" y="409.9" style="letter-spacing:0.2px">4 May 00:00</text>
<text x="450.1" y="409.9" style="letter-spacing:0.2px">5 May 08:00</text>
<text x="514.1" y="409.9" style="letter-spacing:0.2px">6 May 16:00</text>
<text x="578.1" y="409.9" style="letter-spacing:0.2px">10 May 00:00</text>
<text x="642.1" y="409.9" style="letter-spacing:0.2px">11 May 08:00</text>
<text x="706.1" y="409.9" style="letter-spacing:0.2px">12 May 16:00</text>
<text x="770.1" y="409.9" style="letter-spacing:0.2px">16 May 00:00</text>
<text x="834.1" y="409.9" style="letter-spacing:0.2px">17 May 08:00</text>
</svg></body></html>
